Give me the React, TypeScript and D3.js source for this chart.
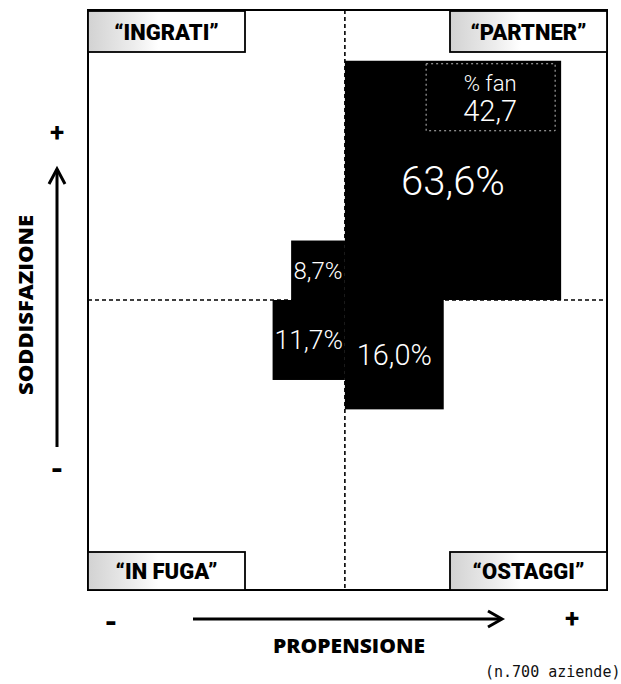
import React from "react";
import * as d3 from "d3";

// ---- data ----
const quadrantNames = ["“INGRATI”", "“PARTNER”", "“IN FUGA”", "“OSTAGGI”"];
const propensionSign = [-1, 1, -1, 1];
const satisfactionSign = [1, 1, -1, -1];
const shares = [8.7, 63.6, 11.7, 16.0];
const fanLabel = "% fan";
const fanShare = 42.7;
const yAxisTitle = "SODDISFAZIONE";
const xAxisTitle = "PROPENSIONE";
const sampleNote = "(n.700 aziende)";

const W = 621;
const H = 684;

const fmt = (v: number) => d3.format(".1f")(v).replace(".", ",");

export default function App() {
  const x = d3.scaleLinear().domain([-0.98, 1]).range([88, 607]);
  const y = d3.scaleLinear().domain([-1, 1]).range([590, 10]);
  const side = d3.scaleLinear().domain([0, 35]).range([0, 0.825]).clamp(true);
  const fontSize = d3.scaleLog().domain([8.7, 63.6]).range([24, 40]);

  const boxes = shares.map((v, i) => {
    const s = side(v);
    const x0 = x(0);
    const x1 = x(propensionSign[i] * s);
    const y0 = y(0);
    const y1 = y(satisfactionSign[i] * s);
    return {
      v,
      i,
      left: Math.min(x0, x1),
      right: Math.max(x0, x1),
      top: Math.min(y0, y1),
      bottom: Math.max(y0, y1),
    };
  });

  const fLeft = x(-0.98);
  const fRight = x(1);
  const fTop = y(1);
  const fBottom = y(-1);
  const labelW = 157;

  const big = boxes[1];
  const numFont = "Roboto, 'Open Sans', sans-serif";

  return (
    <div style={{ position: "absolute", left: 0, top: 0, width: W, height: H, background: "#fff" }}>
      <svg width={W} height={H} style={{ display: "block" }}>
        <defs>
          <linearGradient id="lblGrad" x1="0" x2="1" y1="0" y2="0">
            <stop offset="0" stopColor="#d2d2d2" />
            <stop offset="0.3" stopColor="#eeeeee" />
            <stop offset="0.45" stopColor="#ffffff" />
          </linearGradient>
        </defs>
        <rect x={0} y={0} width={W} height={H} fill="#fff" />

        {/* black boxes */}
        {boxes.map((b) => (
          <rect
            key={"b" + b.i}
            x={b.left}
            y={b.top}
            width={b.right - b.left}
            height={b.bottom - b.top}
            fill="#000"
          />
        ))}

        {/* quadrant dividers */}
        <line x1={x(0)} x2={x(0)} y1={fTop} y2={fBottom} stroke="#000" strokeWidth={1.6} strokeDasharray="4,3" />
        <line x1={fLeft} x2={fRight} y1={y(0)} y2={y(0)} stroke="#000" strokeWidth={1.6} strokeDasharray="4,3" />

        {/* frame */}
        <rect x={fLeft} y={fTop} width={fRight - fLeft} height={fBottom - fTop} fill="none" stroke="#000" strokeWidth={2} />

        {/* quadrant labels */}
        {quadrantNames.map((name, i) => {
          const isLeft = propensionSign[i] < 0;
          const isTop = satisfactionSign[i] > 0;
          const bx = isLeft ? fLeft : fRight - labelW;
          const bh = isTop ? 41 : 38;
          const by = isTop ? fTop + 1 : fBottom - bh;
          return (
            <g key={"q" + i}>
              <rect x={bx} y={by} width={labelW} height={bh} fill="url(#lblGrad)" stroke="#000" strokeWidth={1.8} />
              <text
                x={bx + labelW / 2}
                y={by + bh / 2 + 8}
                textAnchor="middle"
                fontFamily="Roboto, 'Open Sans', sans-serif"
                fontWeight={900}
                fontSize={22}
                fill="#000"
              >
                {name}
              </text>
            </g>
          );
        })}

        {/* value labels */}
        {boxes.map((b) => {
          const fs = fontSize(b.v);
          return (
            <text
              key={"t" + b.i}
              x={(b.left + b.right) / 2}
              y={(b.top + b.bottom) / 2 + fs * 0.36}
              textAnchor="middle"
              fontFamily={numFont}
              fontWeight={300}
              fontSize={fs}
              fill="#fff"
            >
              {fmt(b.v) + "%"}
            </text>
          );
        })}

        {/* % fan inset */}
        <rect
          x={big.right - 135}
          y={big.top + 3}
          width={129}
          height={67}
          fill="none"
          stroke="#bbb"
          strokeWidth={1}
          strokeDasharray="2,3"
        />
        <text x={big.right - 71} y={big.top + 30} textAnchor="middle" fontFamily={numFont} fontWeight={300} fontSize={22} fill="#fff">
          {fanLabel}
        </text>
        <text x={big.right - 71} y={big.top + 60} textAnchor="middle" fontFamily={numFont} fontWeight={300} fontSize={29} fill="#fff">
          {fmt(fanShare)}
        </text>

        {/* y axis arrow */}
        <line x1={57} x2={57} y1={169} y2={447} stroke="#000" strokeWidth={3} />
        <polyline points="49,184 57,169 65,184" fill="none" stroke="#000" strokeWidth={3} />
        <text x={57} y={141} textAnchor="middle" fontFamily="Roboto, sans-serif" fontWeight={700} fontSize={26}>+</text>
        <text x={57} y={479} textAnchor="middle" fontFamily="Roboto, sans-serif" fontWeight={900} fontSize={30}>-</text>
        <text
          transform="translate(33,305) rotate(-90)"
          textAnchor="middle"
          fontFamily="'Open Sans', sans-serif"
          fontWeight={800}
          fontSize={20}
          textLength={180}
          lengthAdjust="spacingAndGlyphs"
        >
          {yAxisTitle}
        </text>

        {/* x axis arrow */}
        <line x1={193} x2={501} y1={619} y2={619} stroke="#000" strokeWidth={3} />
        <polyline points="488,611 502,619 488,627" fill="none" stroke="#000" strokeWidth={3} />
        <text x={111} y={632} textAnchor="middle" fontFamily="Roboto, sans-serif" fontWeight={900} fontSize={30}>-</text>
        <text x={572} y={627} textAnchor="middle" fontFamily="Roboto, sans-serif" fontWeight={700} fontSize={26}>+</text>
        <text
          x={349}
          y={653}
          textAnchor="middle"
          fontFamily="'Open Sans', sans-serif"
          fontWeight={800}
          fontSize={20}
          textLength={152}
          lengthAdjust="spacingAndGlyphs"
        >
          {xAxisTitle}
        </text>
        <text x={485} y={677} fontFamily="'DejaVu Sans Mono', monospace" fontSize={15} fill="#111">
          {sampleNote}
        </text>
      </svg>
    </div>
  );
}
